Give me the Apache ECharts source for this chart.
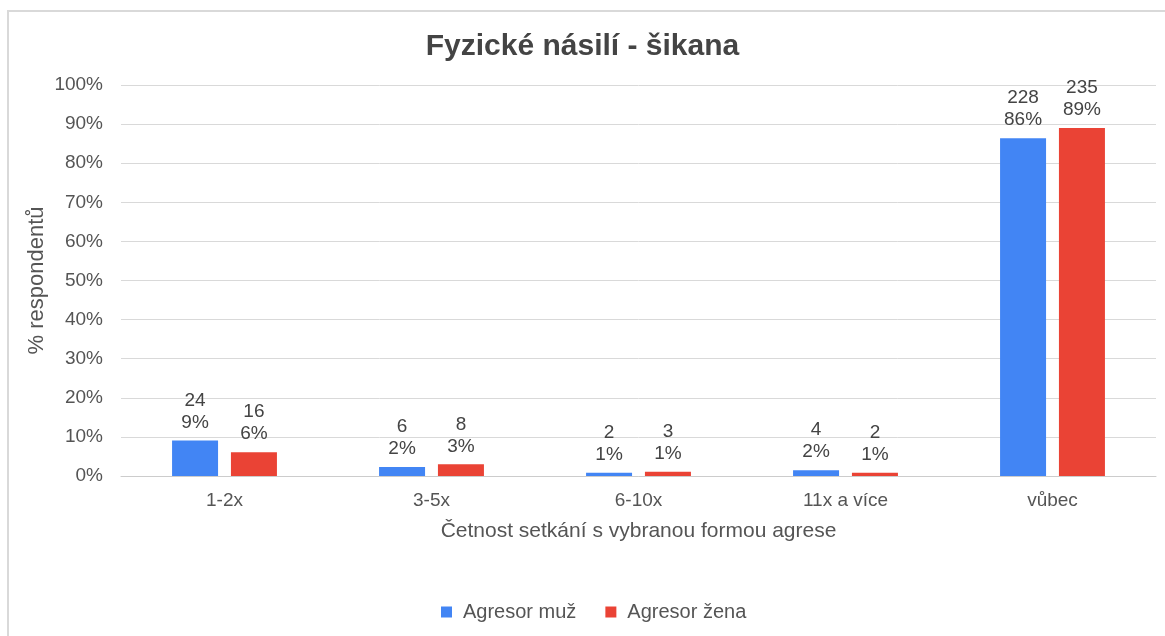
<!DOCTYPE html>
<html>
<head>
<meta charset="utf-8">
<script src="https://cdn.jsdelivr.net/npm/echarts@6/dist/echarts.min.js"></script>
<style>
html,body{margin:0;padding:0;background:#fff;}
#frame{position:absolute;left:7px;top:10px;width:1158px;height:626px;border-left:2px solid #d9d9d9;border-top:2px solid #d9d9d9;box-sizing:border-box;}
#chart{position:absolute;left:0;top:0;width:1165px;height:636px;}
</style>
</head>
<body>
<div id="frame"></div>
<div id="chart"></div>
<script>
const categories = ['1-2x', '3-5x', '6-10x', '11x a více', 'vůbec'];
const seriesNames = ['Agresor muž', 'Agresor žena'];
const valuesMuz = [9.1, 2.3, 0.8, 1.5, 86.4];
const valuesZena = [6.1, 3.0, 1.1, 0.8, 89.0];
const countsMuz = [24, 6, 2, 4, 228];
const countsZena = [16, 8, 3, 2, 235];
const pctLabelsMuz = ['9%', '2%', '1%', '2%', '86%'];
const pctLabelsZena = ['6%', '3%', '1%', '1%', '89%'];
const yTicks = [0, 10, 20, 30, 40, 50, 60, 70, 80, 90, 100];

const font = 'Liberation Sans, Arial, sans-serif';
const chart = echarts.init(document.getElementById('chart'), null, {renderer: 'canvas'});

function mkLabel(counts, pcts) {
  return {
    show: true,
    position: 'top',
    distance: 7,
    color: '#444',
    fontFamily: font,
    fontSize: 19,
    lineHeight: 22,
    formatter: p => counts[p.dataIndex] + '\n' + pcts[p.dataIndex]
  };
}

chart.setOption({
  backgroundColor: 'transparent',
  title: {
    text: 'Fyzické násilí - šikana',
    left: 'center',
    top: 27,
    textStyle: {fontFamily: font, fontSize: 30, fontWeight: 'bold', color: '#444'}
  },
  legend: {
    data: seriesNames,
    bottom: 9,
    left: 436,
    icon: 'rect',
    itemWidth: 11,
    itemHeight: 11,
    itemGap: 29,
    textStyle: {fontFamily: font, fontSize: 20, color: '#555', padding: [0, 0, 0, 6]}
  },
  grid: {left: 121, right: 9, top: 85, bottom: 160, containLabel: false},
  xAxis: {
    type: 'category',
    data: categories,
    name: 'Četnost setkání s vybranou formou agrese',
    nameLocation: 'middle',
    nameGap: 45,
    nameMoveOverlap: false,
    nameTextStyle: {fontFamily: font, fontSize: 21, color: '#555'},
    axisLine: {show: true, lineStyle: {color: '#ccc', width: 1}},
    axisTick: {show: false},
    axisLabel: {fontFamily: font, fontSize: 19, color: '#555', margin: 15}
  },
  yAxis: {
    type: 'value',
    min: yTicks[0],
    max: yTicks[yTicks.length - 1],
    interval: 10,
    name: '% respondentů',
    nameLocation: 'middle',
    nameGap: 73,
    nameMoveOverlap: false,
    nameRotate: 90,
    nameTextStyle: {fontFamily: font, fontSize: 22, color: '#555'},
    axisLine: {show: false},
    axisTick: {show: false},
    splitLine: {lineStyle: {color: '#d9d9d9', width: 1}},
    axisLabel: {fontFamily: font, fontSize: 19, color: '#555', margin: 18, formatter: v => v + '%'}
  },
  series: [
    {
      name: seriesNames[0],
      type: 'bar',
      data: valuesMuz,
      barWidth: 46,
      barGap: '28%',
      itemStyle: {color: '#4285F4'},
      label: mkLabel(countsMuz, pctLabelsMuz)
    },
    {
      name: seriesNames[1],
      type: 'bar',
      data: valuesZena,
      barWidth: 46,
      itemStyle: {color: '#EA4335'},
      label: mkLabel(countsZena, pctLabelsZena)
    }
  ]
});
</script>
</body>
</html>
